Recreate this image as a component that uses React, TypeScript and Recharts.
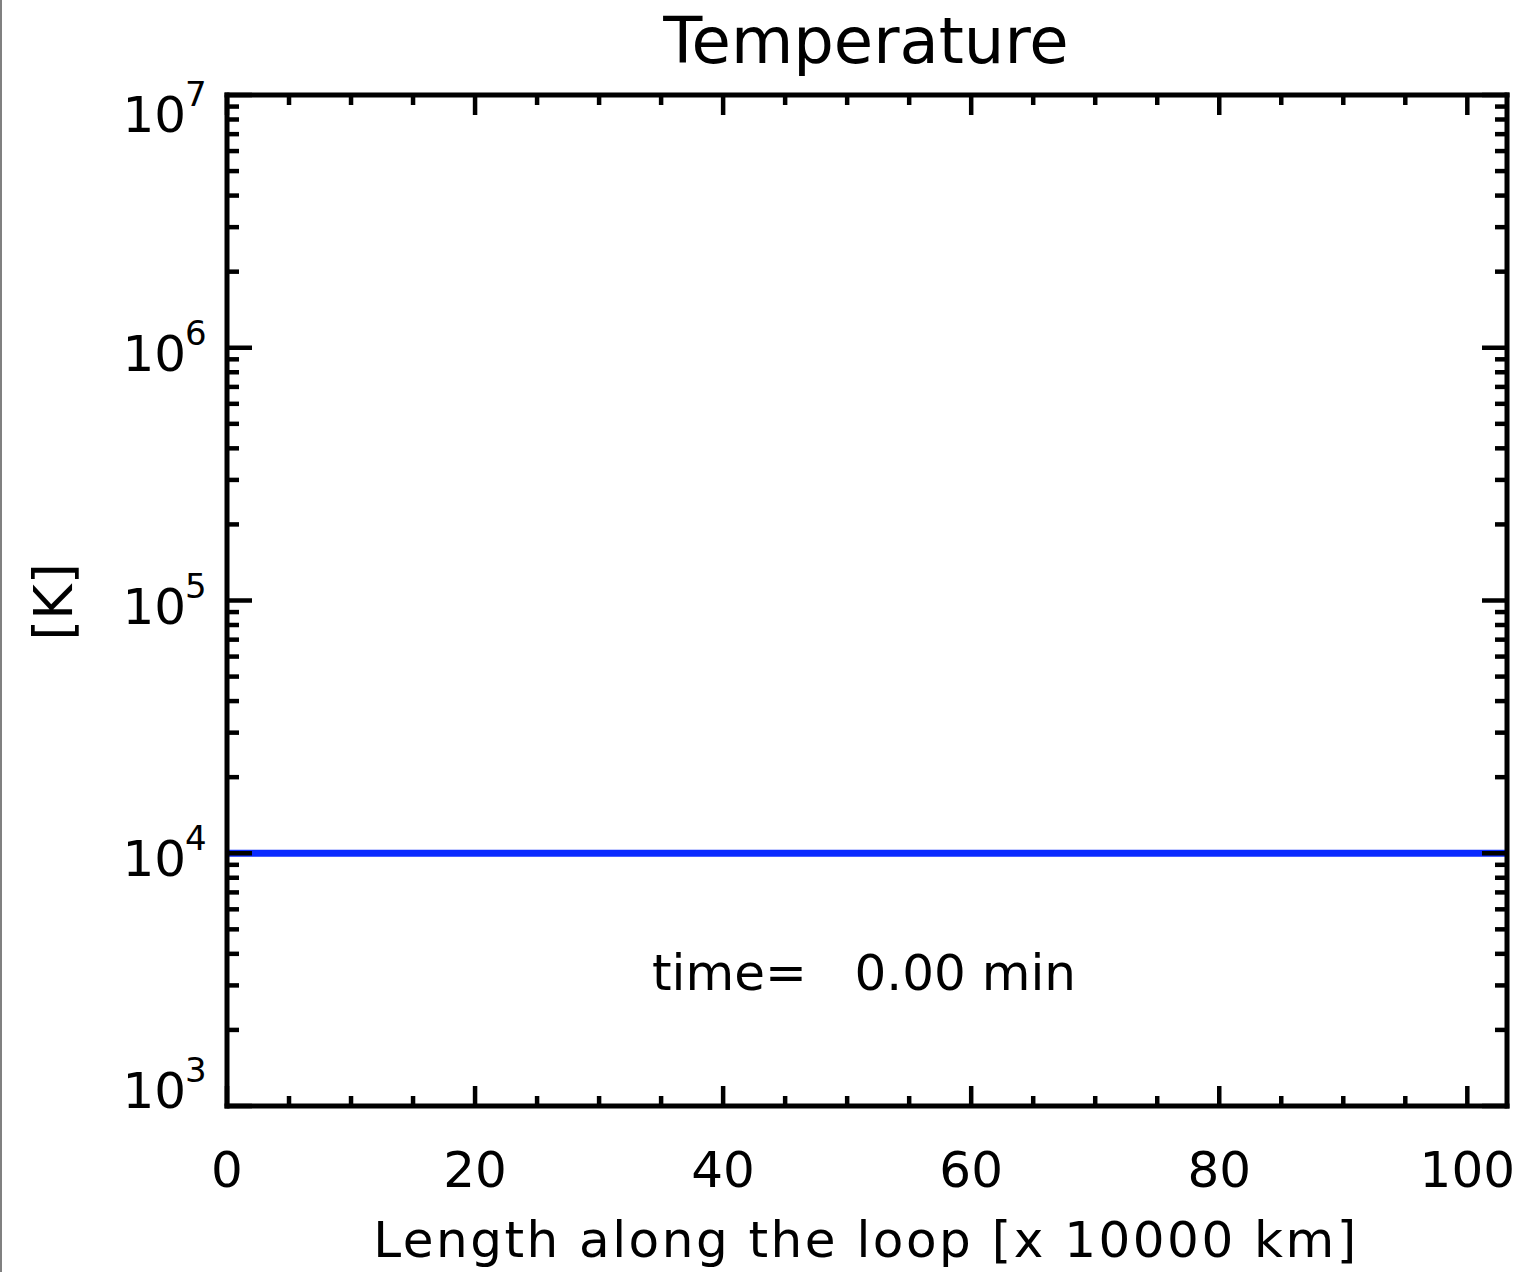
import React from 'react';
import { LineChart, Line, XAxis, YAxis } from 'recharts';

// loop coordinate [x 10000 km] and temperature [K] at t = 0
const LOOP_POS = [0, 20, 40, 60, 80, 100, 103.2];
const TEMPERATURE = [1e4, 1e4, 1e4, 1e4, 1e4, 1e4, 1e4];

const X_DOMAIN = [0, 103.2];
const X_TICKS = [0, 5, 10, 15, 20, 25, 30, 35, 40, 45, 50, 55, 60, 65, 70, 75, 80, 85, 90, 95, 100];
const X_LABELED = [0, 20, 40, 60, 80, 100];

const Y_DOMAIN = [1e3, 1e7];
const Y_DECADES = [3, 4, 5, 6, 7];
const Y_MINOR = [2, 3, 4, 5, 6, 7, 8, 9];

const TITLE = 'Temperature';
const X_LABEL = 'Length along the loop [x 10000 km]';
const Y_LABEL = '[K]';
const TIME_TEXT = 'time=   0.00 min';

const W = 1522;
const H = 1272;
const FONT = '"DejaVu Sans", sans-serif';

const yTicks: number[] = [];
Y_DECADES.forEach((d, i) => {
  yTicks.push(Math.pow(10, d));
  if (i < Y_DECADES.length - 1) Y_MINOR.forEach((m) => yTicks.push(m * Math.pow(10, d)));
});

const data = LOOP_POS.map((s, i) => ({ s, T: TEMPERATURE[i] }));

const axisLine = { stroke: '#000', strokeWidth: 5, strokeLinecap: 'square' as const };

const XTick = (props: any) => {
  const { x, y, payload, side } = props;
  const v = payload.value;
  const major = X_LABELED.includes(v);
  const len = major ? 20 : 10;
  const dir = side === 'bottom' ? -1 : 1;
  return (
    <g>
      <line x1={x} y1={y} x2={x} y2={y + dir * len} stroke="#000" strokeWidth={4.5} />
      {side === 'bottom' && major && (
        <text x={x} y={y + 81} textAnchor="middle" fontSize={50} fontFamily={FONT} fill="#000">
          {v}
        </text>
      )}
    </g>
  );
};

const YTick = (props: any) => {
  const { x, y, payload, side } = props;
  const v = payload.value;
  const exp = Math.round(Math.log10(v));
  const major = Math.abs(v - Math.pow(10, exp)) < 1e-6 * v;
  const len = major ? 25 : 12;
  const dir = side === 'left' ? 1 : -1;
  let base = y + 23;
  if (v === Y_DOMAIN[1]) base = y + 37;
  if (v === Y_DOMAIN[0]) base = y + 2;
  return (
    <g>
      <line x1={x} y1={y} x2={x + dir * len} y2={y} stroke="#000" strokeWidth={4.5} />
      {side === 'left' && major && (
        <g fontFamily={FONT} fill="#000">
          <text x={x - 41} y={base} textAnchor="end" fontSize={50}>
            10
          </text>
          <text x={x - 42} y={base - 26} textAnchor="start" fontSize={34}>
            {exp}
          </text>
        </g>
      )}
    </g>
  );
};

export default function App() {
  return (
    <div style={{ position: 'absolute', left: 0, top: 0, width: W, height: H, background: '#fff' }}>
      <LineChart width={W} height={H} data={data} margin={{ top: 94, right: 14, left: 0, bottom: 0 }}>
        <XAxis
          xAxisId="bottom"
          dataKey="s"
          type="number"
          domain={X_DOMAIN}
          ticks={X_TICKS}
          interval={0}
          allowDataOverflow
          orientation="bottom"
          height={166}
          tickSize={0}
          tickMargin={0}
          tickLine={false}
          axisLine={axisLine}
          tick={(p: any) => <XTick {...p} side="bottom" />}
        />
        <XAxis
          xAxisId="top"
          dataKey="s"
          type="number"
          domain={X_DOMAIN}
          ticks={X_TICKS}
          interval={0}
          allowDataOverflow
          orientation="top"
          height={1}
          tickSize={0}
          tickMargin={0}
          tickLine={false}
          axisLine={axisLine}
          tick={(p: any) => <XTick {...p} side="top" />}
        />
        <YAxis
          yAxisId="left"
          type="number"
          scale="log"
          domain={Y_DOMAIN}
          ticks={yTicks}
          interval={0}
          allowDataOverflow
          orientation="left"
          width={227}
          tickSize={0}
          tickMargin={0}
          tickLine={false}
          axisLine={axisLine}
          tick={(p: any) => <YTick {...p} side="left" />}
        />
        <YAxis
          yAxisId="right"
          type="number"
          scale="log"
          domain={Y_DOMAIN}
          ticks={yTicks}
          interval={0}
          allowDataOverflow
          orientation="right"
          width={1}
          tickSize={0}
          tickMargin={0}
          tickLine={false}
          axisLine={axisLine}
          tick={(p: any) => <YTick {...p} side="right" />}
        />
        <Line
          xAxisId="bottom"
          yAxisId="left"
          type="linear"
          dataKey="T"
          stroke="#0a2aff"
          strokeWidth={7}
          dot={false}
          activeDot={false}
          isAnimationActive={false}
        />
      </LineChart>
      <svg
        width={W}
        height={H}
        style={{ position: 'absolute', left: 0, top: 0, pointerEvents: 'none' }}
        fontFamily={FONT}
        fill="#000"
      >
        <line x1={1} y1={0} x2={1} y2={H} stroke="#808080" strokeWidth={2} />
        <text x={866} y={63} textAnchor="middle" fontSize={64}>
          {TITLE}
        </text>
        <text x={864} y={990} textAnchor="middle" fontSize={50} style={{ whiteSpace: 'pre' }}>
          {TIME_TEXT}
        </text>
        <text x={866} y={1257} textAnchor="middle" fontSize={50} letterSpacing={2.5}>
          {X_LABEL}
        </text>
        <text x={72} y={602} textAnchor="middle" fontSize={54} transform="rotate(-90 72 602)">
          {Y_LABEL}
        </text>
      </svg>
    </div>
  );
}
